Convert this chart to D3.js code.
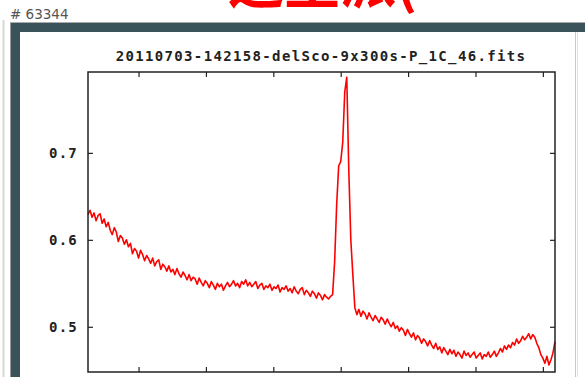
<!DOCTYPE html>
<html>
<head>
<meta charset="utf-8">
<script src="https://cdn.jsdelivr.net/npm/d3@7"></script>
<style>
  body { margin: 0; background: #fff; }
  svg { display: block; }
</style>
</head>
<body>
<script>
// spectrum: regular wavelength grid, start + step, flux
var wave0 = 6505, dwave = 0.6;
var flux = [
  0.629, 0.634, 0.626, 0.631, 0.622, 0.628, 0.630, 0.619, 0.624, 0.615,
  0.620, 0.611, 0.606, 0.614, 0.609, 0.598, 0.605, 0.602, 0.595, 0.600,
  0.592, 0.596, 0.584, 0.590, 0.587, 0.579, 0.588, 0.583, 0.576, 0.582,
  0.578, 0.573, 0.579, 0.570, 0.575, 0.577, 0.566, 0.572, 0.569, 0.564,
  0.570, 0.563, 0.566, 0.560, 0.567, 0.561, 0.557, 0.563, 0.559, 0.554,
  0.560, 0.553, 0.557, 0.555, 0.549, 0.556, 0.551, 0.547, 0.553, 0.550,
  0.545, 0.552, 0.548, 0.543, 0.550, 0.546, 0.549, 0.542, 0.547, 0.551,
  0.546, 0.549, 0.553, 0.547, 0.550, 0.545, 0.552, 0.549, 0.554, 0.547,
  0.551, 0.546, 0.549, 0.552, 0.544, 0.548, 0.550, 0.543, 0.547, 0.545,
  0.549, 0.542, 0.546, 0.544, 0.548, 0.540, 0.545, 0.543, 0.547, 0.541,
  0.544, 0.539, 0.546, 0.541, 0.538, 0.543, 0.545, 0.537, 0.542, 0.539,
  0.535, 0.541, 0.538, 0.533, 0.539, 0.536, 0.531, 0.537, 0.534, 0.532,
  0.535, 0.537, 0.575, 0.640, 0.685, 0.690, 0.712, 0.770, 0.787, 0.680,
  0.600, 0.560, 0.522, 0.514, 0.520, 0.512, 0.518, 0.515, 0.509, 0.516,
  0.511, 0.507, 0.513, 0.509, 0.505, 0.511, 0.508, 0.503, 0.509, 0.504,
  0.500, 0.505, 0.498, 0.501, 0.495, 0.499, 0.496, 0.490, 0.497, 0.492,
  0.488, 0.493, 0.485, 0.490, 0.487, 0.481, 0.486, 0.483, 0.478, 0.484,
  0.479, 0.475, 0.481, 0.474, 0.477, 0.470, 0.476, 0.472, 0.468, 0.474,
  0.469, 0.473, 0.466, 0.471, 0.468, 0.464, 0.472, 0.467, 0.470, 0.465,
  0.468, 0.471, 0.464, 0.467, 0.470, 0.463, 0.468, 0.466, 0.471, 0.465,
  0.468, 0.472, 0.466, 0.470, 0.475, 0.471, 0.478, 0.474, 0.479, 0.476,
  0.482, 0.479, 0.486, 0.481, 0.484, 0.489, 0.485, 0.488, 0.492, 0.486,
  0.491, 0.488, 0.481, 0.476, 0.468, 0.464, 0.458, 0.466, 0.456, 0.462, 0.470, 0.483
];
var xTicks = [6520, 6540, 6560, 6580, 6600, 6620, 6640];
var yTicks = [0.5, 0.6, 0.7];
var title = "20110703-142158-delSco-9x300s-P_1C_46.fits";

var w = 585, h = 377;
var svg = d3.select("body").append("svg").attr("width", w).attr("height", h);

// screenshot bits around the plot window
svg.append("text")
  .attr("x", 228).attr("y", 3)
  .attr("fill", "#ff0000")
  .attr("font-family", "Noto Sans CJK SC")
  .attr("font-weight", "bold")
  .attr("font-size", 56)
  .text("这里派(");

svg.append("text")
  .attr("x", 10).attr("y", 19)
  .attr("fill", "#555")
  .attr("font-family", "DejaVu Sans")
  .attr("font-size", 13.5)
  .text("# 63344");

svg.append("line").attr("x1", 3.5).attr("x2", 3.5).attr("y1", 20).attr("y2", h)
  .attr("stroke", "#d8d8d8").attr("stroke-width", 2);
svg.append("line").attr("x1", 10).attr("x2", w).attr("y1", 22.5).attr("y2", 22.5)
  .attr("stroke", "#aaa");
svg.append("rect").attr("x", 11).attr("y", 23).attr("width", w - 11).attr("height", 9)
  .attr("fill", "#3a535b");
svg.append("rect").attr("x", 11).attr("y", 23).attr("width", 9).attr("height", h - 23)
  .attr("fill", "#3a535b");
svg.append("line").attr("x1", 10.5).attr("x2", 10.5).attr("y1", 23).attr("y2", h)
  .attr("stroke", "#999");
svg.append("line").attr("x1", 575.5).attr("x2", 575.5).attr("y1", 32).attr("y2", h)
  .attr("stroke", "#c8c8c8");
svg.append("line").attr("x1", 577.5).attr("x2", 577.5).attr("y1", 32).attr("y2", h)
  .attr("stroke", "#e0e0e0");

// plot box
var pLeft = 88, pRight = 555, pTop = 72, pBottom = 372;
var x = d3.scaleLinear().domain([6505, 6643.6]).range([pLeft, pRight]);
var y = d3.scaleLinear().domain([0.448, 0.793]).range([pBottom, pTop]);

var monoFont = "'DejaVu Sans Mono', 'Liberation Mono', monospace";

svg.append("text")
  .attr("x", 321).attr("y", 61)
  .attr("text-anchor", "middle")
  .attr("fill", "#222")
  .attr("font-family", monoFont)
  .attr("font-weight", "bold")
  .attr("font-size", 14)
  .attr("letter-spacing", 1.35)
  .text(title);

var line = d3.line()
  .x(function(d, i){ return x(wave0 + i * dwave); })
  .y(function(d){ return y(d); });

svg.append("path")
  .datum(flux)
  .attr("d", line)
  .attr("fill", "none")
  .attr("stroke", "#ff0000")
  .attr("stroke-width", 1.6)
  .attr("stroke-linejoin", "round");

function styleAxis(g){
  g.selectAll(".domain").remove();
  g.selectAll(".tick line").attr("stroke", "#222").attr("stroke-width", 1.2);
  g.selectAll("text")
    .attr("fill", "#222")
    .attr("font-family", monoFont)
    .attr("font-weight", "bold")
    .attr("font-size", 14)
    .attr("letter-spacing", 1.2);
}

// bottom labels fall below the window, like in the screenshot
svg.append("g").attr("transform", "translate(0," + pBottom + ")")
  .call(d3.axisBottom(x).tickValues(xTicks).tickSize(-5).tickFormat("")).call(styleAxis);
svg.append("g").attr("transform", "translate(0," + pTop + ")")
  .call(d3.axisTop(x).tickValues(xTicks).tickSize(-5).tickFormat("")).call(styleAxis);
svg.append("g").attr("transform", "translate(" + pLeft + ",0)")
  .call(d3.axisLeft(y).tickValues(yTicks).tickSize(-5).tickPadding(10).tickFormat(d3.format(".1f"))).call(styleAxis);
svg.append("g").attr("transform", "translate(" + pRight + ",0)")
  .call(d3.axisRight(y).tickValues(yTicks).tickSize(-5).tickFormat("")).call(styleAxis);

svg.append("rect")
  .attr("x", pLeft).attr("y", pTop)
  .attr("width", pRight - pLeft).attr("height", pBottom - pTop)
  .attr("fill", "none").attr("stroke", "#222").attr("stroke-width", 1.5);
</script>
</body>
</html>
